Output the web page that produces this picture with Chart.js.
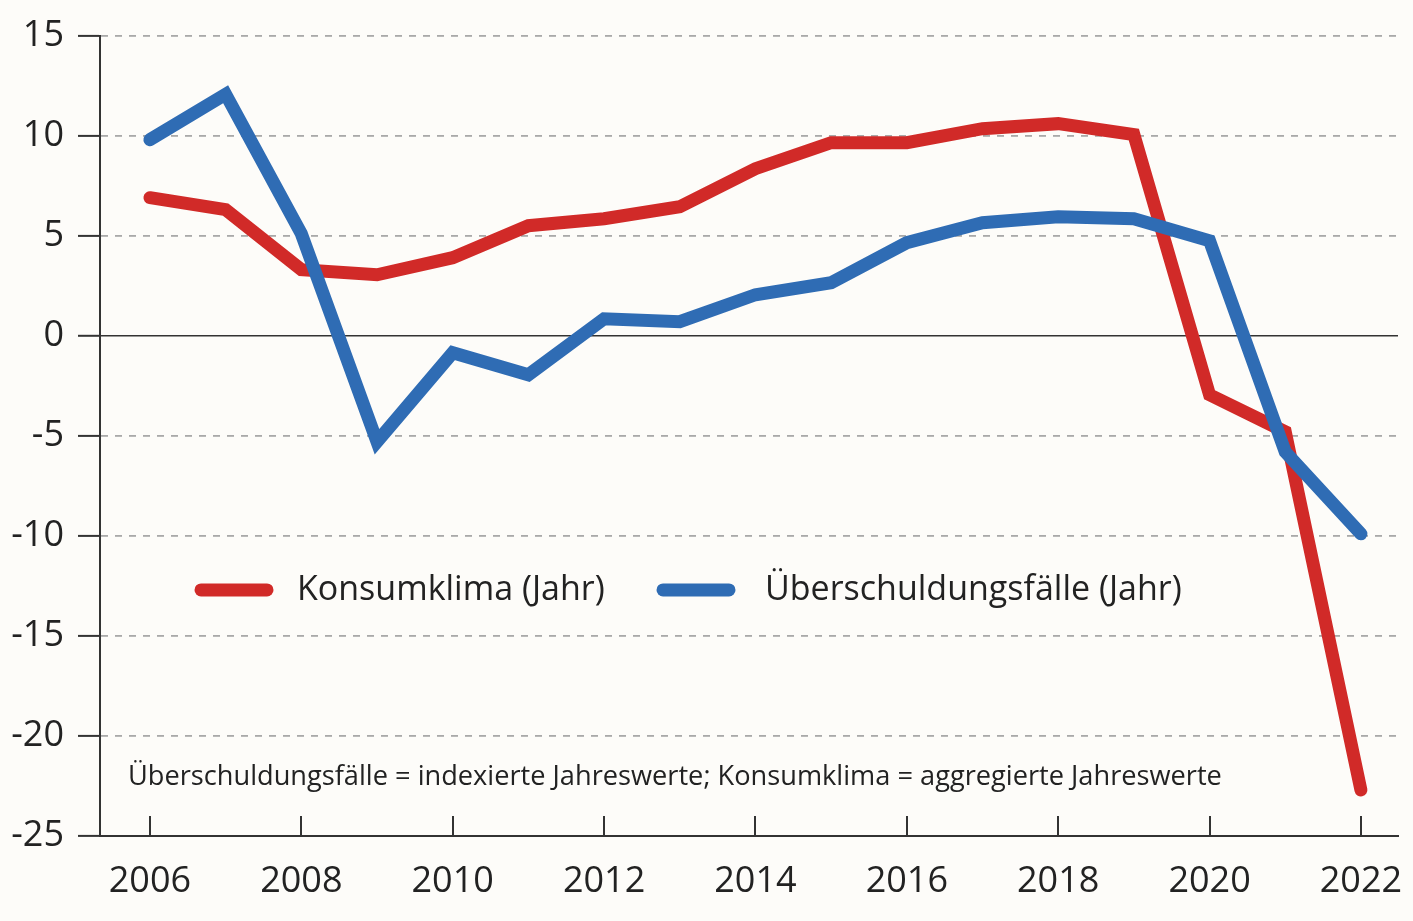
<!DOCTYPE html>
<html>
<head>
<meta charset="utf-8">
<script src="https://cdn.jsdelivr.net/npm/chart.js@4.4.1/dist/chart.umd.min.js"></script>
<style>
  html, body { margin: 0; padding: 0; background: #fdfcf9; }
  #wrap { width: 1413px; height: 921px; position: relative; }
</style>
</head>
<body>
<div id="wrap"><canvas id="c" width="1413" height="921"></canvas></div>
<script>
const years = [2006, 2007, 2008, 2009, 2010, 2011, 2012, 2013, 2014, 2015, 2016, 2017, 2018, 2019, 2020, 2021, 2022];
const konsumklima = [6.9, 6.3, 3.3, 3.05, 3.9, 5.5, 5.85, 6.45, 8.35, 9.65, 9.65, 10.35, 10.6, 10.05, -2.95, -4.8, -22.7];
const ueberschuldung = [9.8, 12.07, 5.1, -5.3, -0.85, -1.95, 0.85, 0.7, 2.05, 2.65, 4.65, 5.65, 5.95, 5.85, 4.75, -5.8, -9.9];
const xTicks = [2006, 2008, 2010, 2012, 2014, 2016, 2018, 2020, 2022];
const yTicks = [15, 10, 5, 0, -5, -10, -15, -20, -25];
const seriesLabels = ['Konsumklima (Jahr)', 'Überschuldungsfälle (Jahr)'];
const noteText = 'Überschuldungsfälle = indexierte Jahreswerte; Konsumklima = aggregierte Jahreswerte';

const RED = '#d12a28';
const BLUE = '#2f6cb4';
const AXIS = '#333333';
const FONT = '"Open Sans", "Noto Sans", sans-serif';

const insideTicks = {
  id: 'insideTicks',
  afterDraw(chart) {
    const {ctx, chartArea} = chart;
    const xs = chart.scales.x;
    ctx.save();
    ctx.strokeStyle = AXIS;
    ctx.lineWidth = 2;
    xTicks.forEach(v => {
      const px = Math.round(xs.getPixelForValue(v));
      ctx.beginPath();
      ctx.moveTo(px, chartArea.bottom);
      ctx.lineTo(px, chartArea.bottom - 20);
      ctx.stroke();
    });
    ctx.restore();
  }
};

const customLegend = {
  id: 'customLegend',
  afterDatasetsDraw(chart) {
    const {ctx} = chart;
    const ys = chart.scales.y;
    const legendY = ys.getPixelForValue(-12.7);
    ctx.save();
    ctx.lineCap = 'round';
    ctx.lineWidth = 13;
    ctx.textBaseline = 'middle';
    ctx.fillStyle = '#222';
    ctx.font = '34px ' + FONT;
    const items = [
      {color: RED, x0: 201, x1: 267, tx: 297, label: seriesLabels[0]},
      {color: BLUE, x0: 663, x1: 729, tx: 765, label: seriesLabels[1]}
    ];
    items.forEach(it => {
      ctx.strokeStyle = it.color;
      ctx.beginPath();
      ctx.moveTo(it.x0, legendY);
      ctx.lineTo(it.x1, legendY);
      ctx.stroke();
      ctx.fillText(it.label, it.tx, legendY);
    });
    ctx.font = '27.2px ' + FONT;
    ctx.fillText(noteText, 128, ys.getPixelForValue(-22.05));
    ctx.restore();
  }
};

new Chart(document.getElementById('c'), {
  type: 'line',
  data: {
    datasets: [
      {
        label: seriesLabels[0],
        data: years.map((y, i) => ({x: y, y: konsumklima[i]})),
        borderColor: RED,
        backgroundColor: RED,
        borderWidth: 13,
        pointRadius: 0,
        borderCapStyle: 'round',
        borderJoinStyle: 'miter',
        tension: 0,
        order: 2
      },
      {
        label: seriesLabels[1],
        data: years.map((y, i) => ({x: y, y: ueberschuldung[i]})),
        borderColor: BLUE,
        backgroundColor: BLUE,
        borderWidth: 13,
        pointRadius: 0,
        borderCapStyle: 'round',
        borderJoinStyle: 'miter',
        tension: 0,
        order: 1
      }
    ]
  },
  options: {
    responsive: false,
    animation: false,
    layout: { padding: { top: 33, right: 15, left: 0, bottom: 0 } },
    plugins: {
      legend: { display: false },
      tooltip: { enabled: false }
    },
    scales: {
      x: {
        type: 'linear',
        min: 2005.34,
        max: 2022.49,
        afterBuildTicks: s => { s.ticks = xTicks.map(v => ({value: v})); },
        afterFit: s => { s.height = 85; s.paddingLeft = 0; s.paddingRight = 0; },
        ticks: {
          font: { family: FONT, size: 36 },
          color: '#222',
          padding: 24,
          maxRotation: 0,
          autoSkip: false,
          callback: v => String(v)
        },
        grid: { display: true, drawOnChartArea: false, drawTicks: false },
        border: { display: true, color: AXIS, width: 2 }
      },
      y: {
        min: -25,
        max: 15,
        afterBuildTicks: s => { s.ticks = yTicks.map(v => ({value: v})); },
        afterFit: s => { s.width = 100; },
        ticks: {
          font: { family: FONT, size: 36 },
          color: '#222',
          padding: 14,
          callback: v => String(v)
        },
        grid: {
          color: c => (c.tick && c.tick.value === 0) ? AXIS : '#a9a9a9',
          lineWidth: c => (c.tick && c.tick.value === 0) ? 1.6 : 1.8,
          tickColor: AXIS,
          tickWidth: 2,
          tickLength: 22,
          tickBorderDash: []
        },
        border: {
          display: true,
          color: AXIS,
          width: 2,
          dash: c => (c.tick && c.tick.value === 0) ? [] : [7, 7]
        }
      }
    }
  },
  plugins: [insideTicks, customLegend]
});
</script>
</body>
</html>
